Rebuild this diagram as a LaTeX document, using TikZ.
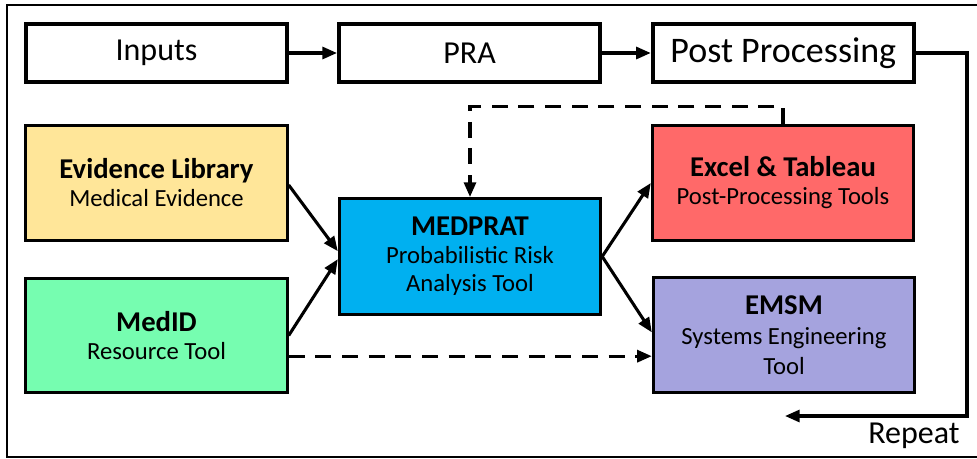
\documentclass[tikz,border=0pt]{standalone}
\usepackage{fontspec}
\setmainfont{Carlito}
\usepackage{tikz}
\usetikzlibrary{arrows.meta}
\usetikzlibrary{shadows}
\usetikzlibrary{positioning}
\definecolor{evidencefill}{HTML}{FFE699}
\definecolor{medidfill}{HTML}{76FDB0}
\definecolor{medpratfill}{HTML}{00B0F0}
\definecolor{excelfill}{HTML}{FF6969}
\definecolor{emsmfill}{HTML}{A5A3DE}
\tikzset{stage/.style = {draw, line width=2.8pt, fill=white,
                         minimum width=196pt, minimum height=43pt,
                         font=\fontsize{24}{24}\selectfont,
                         drop shadow={shadow xshift=1.2pt, shadow yshift=-1.2pt, opacity=0.35}}}
\tikzset{tool/.style = {draw, line width=2.3pt, minimum width=196pt, minimum height=86pt,
                        align=center, font=\fontsize{18.5}{21}\selectfont}}
\tikzset{flow/.style = {line width=2.3pt, -{Triangle[length=11pt,width=9pt]}}}
\tikzset{feedback/.style = {flow, dash pattern=on 12pt off 8pt}}
\newcommand{\tooltitle}[1]{{\bfseries\fontsize{21.5}{21}\selectfont #1}}

\begin{document}
\begin{tikzpicture}[x=0.75pt, y=-0.75pt]
      \useasboundingbox (0, 0) rectangle (977, 458);
      \draw [line width=1pt] (7, 5) rectangle (990, 457);

      \node [stage] (inputs) at (156.5, 53) {Inputs};
      \node [stage, right=36pt of inputs] (pra) {PRA};
      \node [stage, right=36.5pt of pra, font=\fontsize{27}{27}\selectfont] (post) {Post Processing};

      \node [tool, fill=evidencefill] (evidence) at (156.5, 183)
            {\tooltitle{Evidence Library}\\Medical Evidence};
      \node [tool, fill=medidfill] (medid) at (156.5, 335.5)
            {\tooltitle{MedID}\\Resource Tool};
      \node [tool, fill=medpratfill, minimum height=87pt] (medprat) at (470, 256.5)
            {\tooltitle{MEDPRAT}\\Probabilistic Risk\\Analysis Tool};
      \node [tool, fill=excelfill] (excel) at (783, 183)
            {\tooltitle{Excel \& Tableau}\\Post-Processing Tools};
      \node [tool, fill=emsmfill, font=\fontsize{18.5}{22.5}\selectfont] (emsm) at (784, 335)
            {\tooltitle{EMSM}\\Systems Engineering\\Tool};

      \draw [flow] (inputs) -- (pra);
      \draw [flow] (pra) -- (post);

      \coordinate (back) at (785, 416);
      \draw [flow] (post.east) -| (967, 416) -- (back);
      \node [font=\fontsize{24}{24}\selectfont] (repeat) at (914, 436) {Repeat};

      \draw [flow] ([yshift=-1.5pt]evidence.east) -- ([yshift=4pt]medprat.west);
      \draw [flow] (medid.east) -- ([yshift=-2pt]medprat.west);
      \draw [flow] (medprat.east) -- (excel.west);
      \draw [flow] (medprat.east) -- ([yshift=2pt]emsm.west);

      \coordinate (resource) at ([yshift=-15.5pt]medid.east);
      \draw [feedback] (resource) -- (resource -| emsm.west);
      \draw [feedback] (excel.north) -- ++(0, -18) -| (medprat.north);
    \end{tikzpicture}
\end{document}
